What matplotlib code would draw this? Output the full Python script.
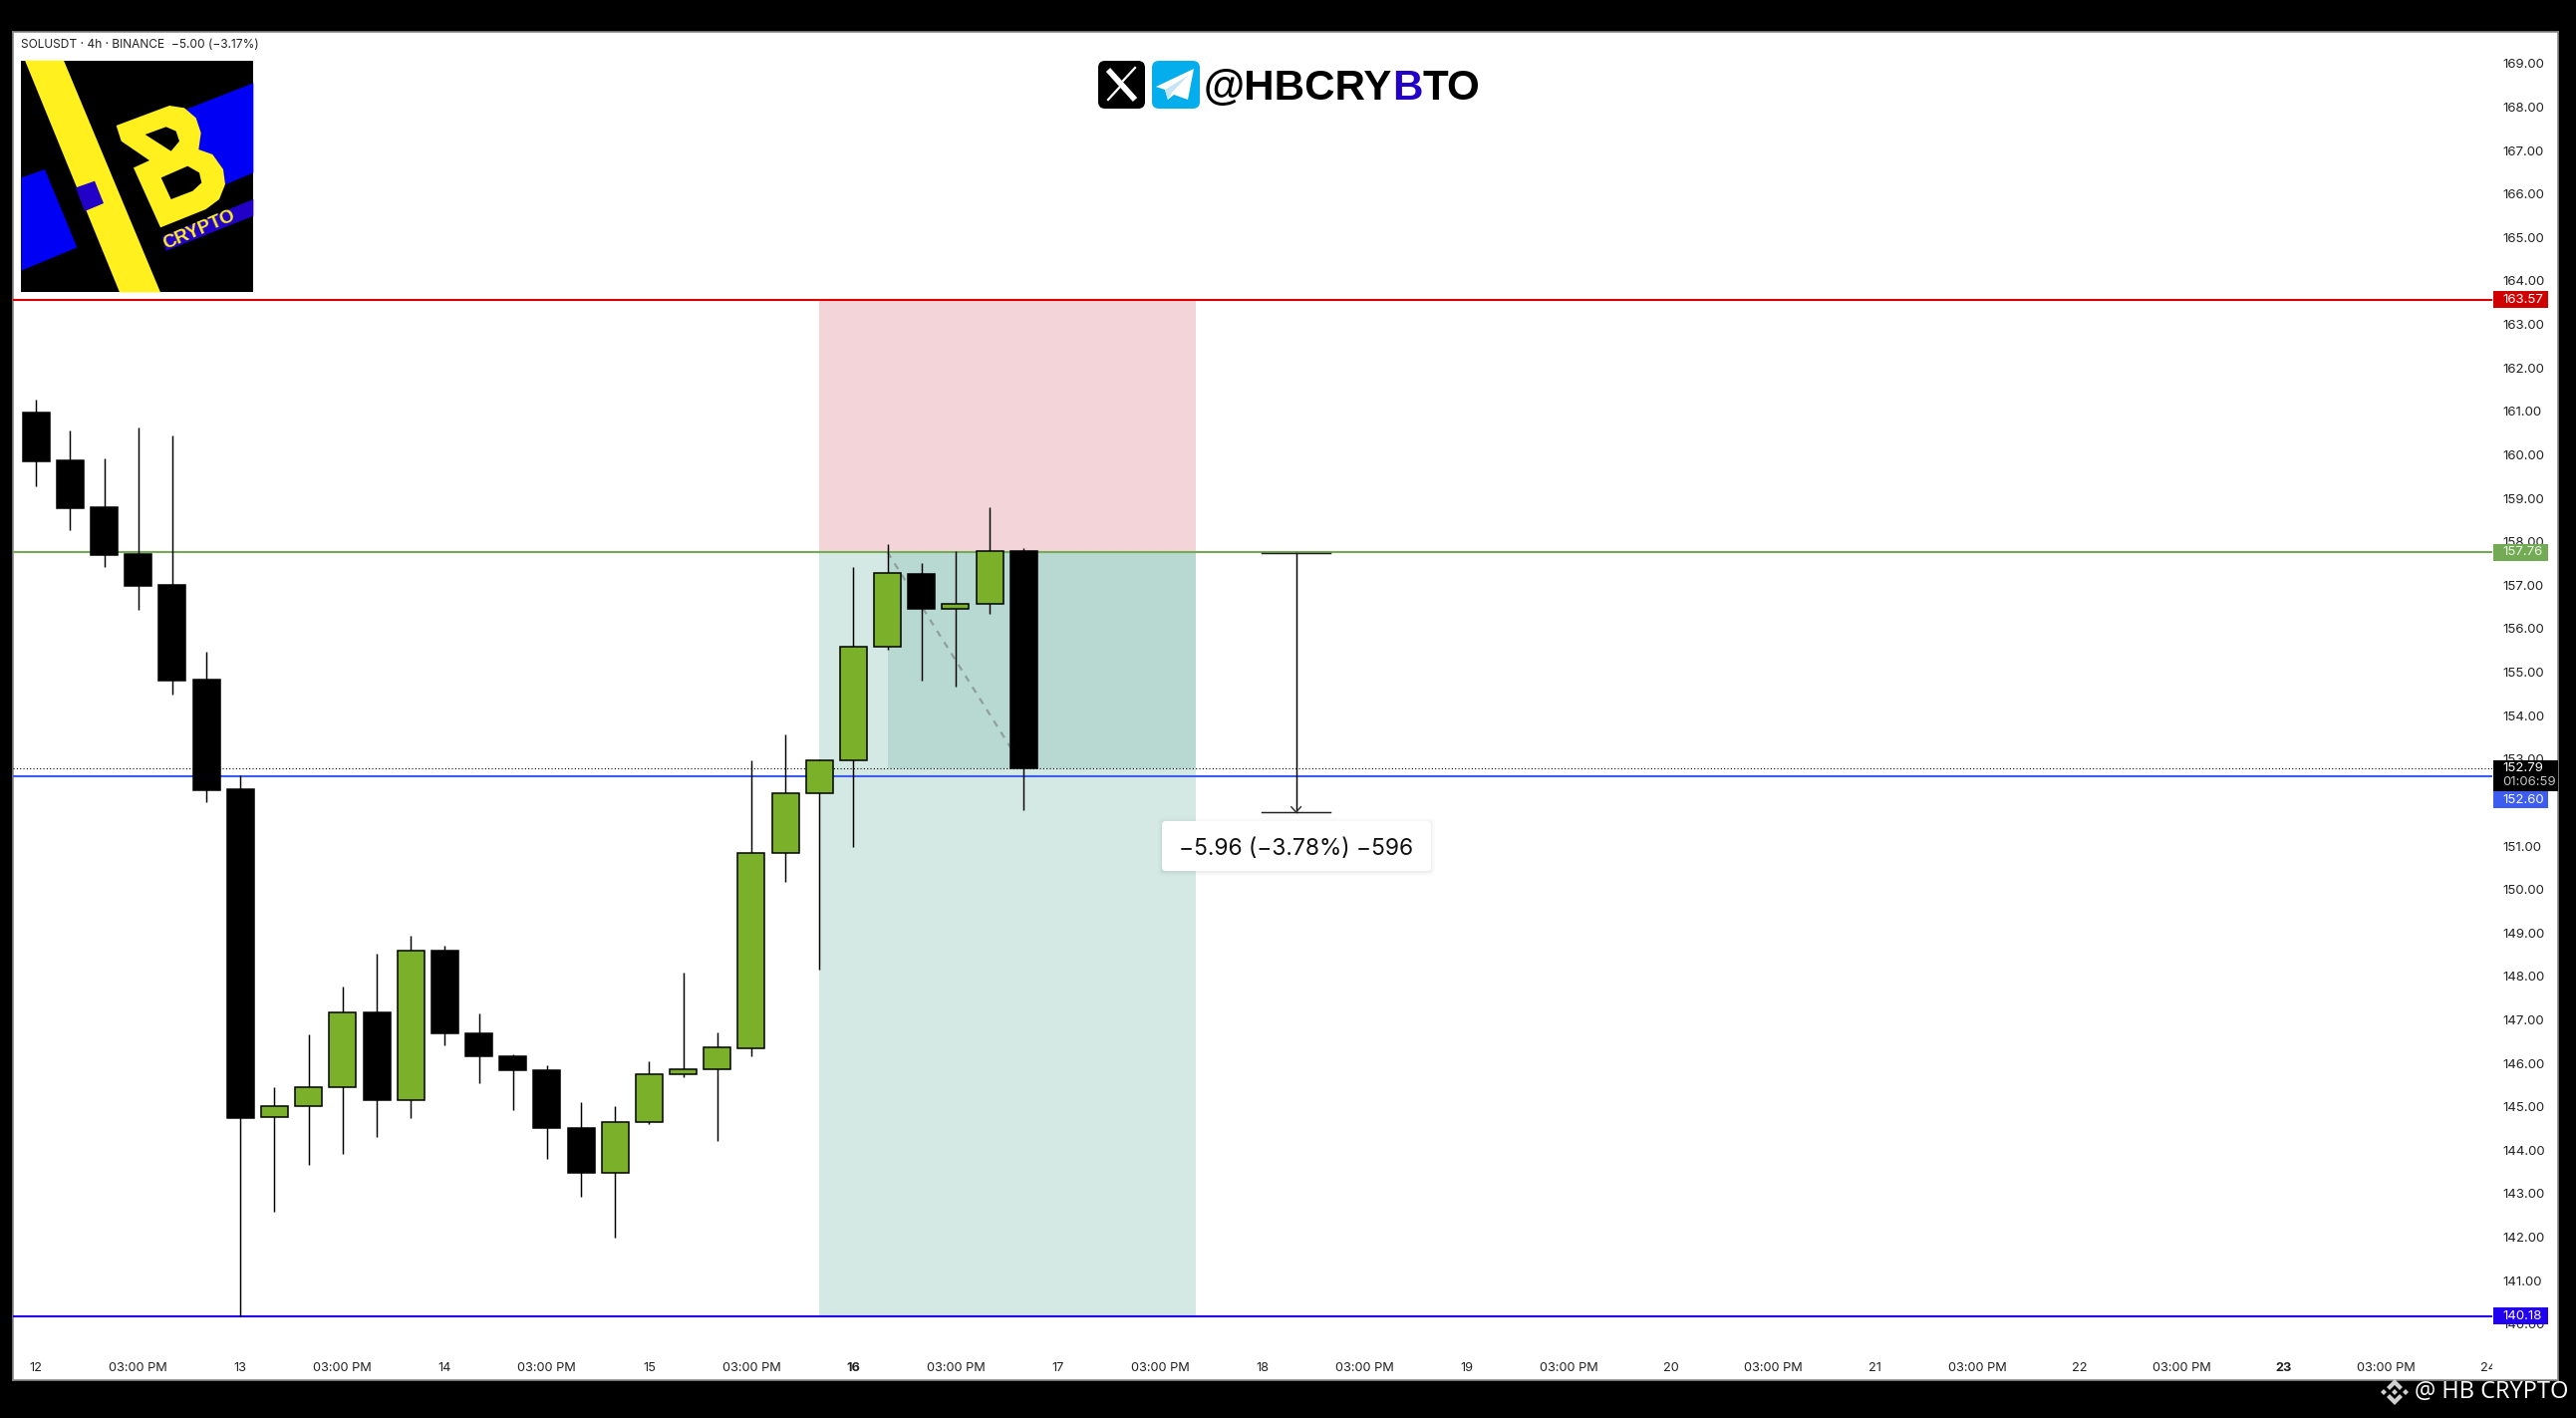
"""
Ricostruzione del grafico SOLUSDT 4h con posizione short e righello.
"""

import matplotlib
matplotlib.use("Agg")
import matplotlib.pyplot as plt
from matplotlib.patches import Rectangle, Polygon, FancyBboxPatch
from matplotlib.transforms import Bbox

# =======================
# Dati
# =======================

opens = [160.97, 159.87, 158.80, 157.72, 157.01, 154.83, 152.31, 144.76, 145.01, 145.45,
         147.17, 145.16, 148.59, 146.70, 146.17, 145.85, 144.52, 143.49, 144.64, 145.74,
         145.86, 146.34, 150.83, 152.21, 152.97, 155.58, 157.25, 156.46, 156.56, 157.78]
closes = [159.86, 158.77, 157.70, 156.99, 154.81, 152.29, 144.75, 145.01, 145.45, 147.17,
          145.16, 148.59, 146.70, 146.17, 145.85, 144.52, 143.49, 144.64, 145.74, 145.86,
          146.36, 150.85, 152.21, 152.97, 155.58, 157.28, 156.46, 156.56, 157.78, 152.79]
highs = [161.28, 160.56, 159.92, 160.63, 160.45, 155.47, 152.62, 145.46, 146.67, 147.77,
         148.53, 148.94, 148.71, 147.15, 146.22, 145.96, 145.11, 145.02, 146.05, 148.09,
         146.71, 152.98, 153.56, 152.99, 157.41, 157.95, 157.50, 157.79, 158.80, 157.86]
lows = [159.28, 158.27, 157.42, 156.44, 154.49, 152.01, 140.18, 142.59, 143.67, 143.92,
        144.31, 144.75, 146.42, 145.55, 144.93, 143.81, 142.94, 141.98, 144.61, 145.69,
        144.22, 146.16, 150.18, 148.15, 150.98, 155.52, 154.81, 154.67, 156.35, 151.83]

date_ticks = [0, 3, 6, 9, 12, 15, 18, 21, 24, 27, 30, 33, 36, 39, 42, 45, 48, 51, 54, 57, 60, 63, 66, 69, 72]
date_labels = ["12", "03:00 PM", "13", "03:00 PM", "14", "03:00 PM", "15", "03:00 PM", "16",
               "03:00 PM", "17", "03:00 PM", "18", "03:00 PM", "19", "03:00 PM", "20",
               "03:00 PM", "21", "03:00 PM", "22", "03:00 PM", "23", "03:00 PM", "24"]
bold_dates = ["16", "23"]
price_ticks = list(range(140, 170))

stop_price = 163.57
entry_price = 157.76
last_price = 152.79
blue_price = 152.60
target_price = 140.18

position_start = 23
position_end = 34.05
filled_start = 25
exit_bar = 29
ruler_bar = 37
ruler_top = 157.74
ruler_bottom = 151.78

GREEN = "#7bb02b"
LINE_GREEN = "#72ab53"
RED = "#e00000"
BLUE = "#3d5cf0"
DEEP_BLUE = "#2200f0"
LOGO_BLUE = "#2200c8"
YELLOW = "#fff01e"
FONT = "Inter"

W, H = 2585, 1423

# =======================
# Figura e assi
# =======================

fig = plt.figure(figsize=(W / 100, H / 100), dpi=100, facecolor="black")

def axes_px(left, top, right, bottom, **kw):
    return fig.add_axes([left / W, 1 - bottom / H, (right - left) / W, (bottom - top) / H], **kw)

pane = axes_px(13, 32, 2567, 1385, facecolor="white", zorder=0)
pane.set_xticks([])
pane.set_yticks([])
for s in pane.spines.values():
    s.set_color("#8a8a8a")
    s.set_linewidth(1.2)

ax = axes_px(13, 32, 2501, 1355, zorder=1)
ax.patch.set_alpha(0)
for s in ax.spines.values():
    s.set_visible(False)
ax.set_xlim(-0.682, 72.13)
ax.set_ylim(139.40, 169.73)

ax.yaxis.tick_right()
ax.set_yticks(price_ticks)
ax.set_yticklabels([f"{p:.2f}" for p in price_ticks], fontsize=9.5, family=FONT, color="#222222")
ax.tick_params(axis="y", length=0, pad=7.2)
ax.set_xticks(date_ticks)
ax.set_xticklabels(date_labels, fontsize=9.2, family=FONT, color="#222222")
ax.tick_params(axis="x", length=0, pad=8.6)
for lab in ax.get_xticklabels():
    if lab.get_text() in bold_dates:
        lab.set_fontweight("bold")
    lab.set_clip_on(True)
    lab.set_clip_box(Bbox([[13, 0], [2501, H]]))

# Zone della posizione
ax.add_patch(Rectangle((position_start, entry_price), position_end - position_start,
                       stop_price - entry_price, color="#f3d5d9", lw=0, zorder=1))
ax.add_patch(Rectangle((position_start, target_price), position_end - position_start,
                       entry_price - target_price, color="#d5e9e4", lw=0, zorder=1))
ax.add_patch(Rectangle((filled_start, last_price), position_end - filled_start,
                       entry_price - last_price, color="#b7d9d2", lw=0, zorder=1.5))
ax.plot([filled_start, exit_bar], [entry_price, last_price], color="#8f9f9b", lw=1.6,
        ls=(0, (3, 3)), zorder=2)

# Linee di prezzo
ax.axhline(stop_price, color=RED, lw=1.5, zorder=2)
ax.axhline(entry_price, color=LINE_GREEN, lw=1.5, zorder=2)
ax.axhline(last_price, color="black", lw=0.8, ls=(0, (1, 2)), zorder=2)
ax.axhline(blue_price, color=BLUE, lw=1.5, zorder=2)
ax.axhline(target_price, color=DEEP_BLUE, lw=1.5, zorder=2)

# Candele
body_w = 0.79
for i in range(len(opens)):
    up = closes[i] >= opens[i]
    ax.plot([i, i], [lows[i], highs[i]], color="black", lw=1.05, zorder=3, solid_capstyle="butt")
    bottom = min(opens[i], closes[i])
    ax.add_patch(Rectangle((i - body_w / 2, bottom), body_w, abs(closes[i] - opens[i]),
                           facecolor=GREEN if up else "black", edgecolor="black",
                           lw=1.1, zorder=4))

# Righello
ax.plot([ruler_bar, ruler_bar], [ruler_top, ruler_bottom], color="black", lw=1.05, zorder=5)
ax.plot([ruler_bar - 1, ruler_bar + 1], [ruler_top, ruler_top], color="#222222", lw=1.05, zorder=5)
ax.plot([ruler_bar - 1, ruler_bar + 1], [ruler_bottom, ruler_bottom], color="#222222", lw=1.05, zorder=5)
ax.plot([ruler_bar - 0.14, ruler_bar, ruler_bar + 0.14],
        [ruler_bottom + 0.12, ruler_bottom, ruler_bottom + 0.12], color="#333333", lw=1.05, zorder=5)

# =======================
# Sovrapposizione in pixel
# =======================

top = fig.add_axes([0, 0, 1, 1], zorder=2)
top.patch.set_alpha(0)
top.axis("off")
top.set_xlim(0, W)
top.set_ylim(H, 0)

def y_of(price):
    return H - ax.transData.transform((0, price))[1]

def tag(price, text, color, text_color="white", shift=0, right=2557, h=17):
    y = y_of(price) + shift
    top.add_patch(Rectangle((2502, y - h / 2), right - 2502, h, color=color, lw=0, zorder=3))
    top.text(2511, y, text, color=text_color, fontsize=9.5, family=FONT, va="center", ha="left", zorder=4)

tag(stop_price, "163.57", "#d10000")
tag(entry_price, "157.76", LINE_GREEN, "#eef5e8")
tag(target_price, "140.18", DEEP_BLUE)
# il tag blu scende sotto quello nero per non sovrapporsi
tag(blue_price, "152.60", BLUE, shift=23.5)
y_last = y_of(last_price)
top.add_patch(Rectangle((2502, y_last - 8), 65, 31, color="black", lw=0, zorder=3))
top.text(2511, y_last + 0.5, "152.79", color="white", fontsize=9.5, family=FONT, va="center", zorder=4)
top.text(2511, y_last + 14.5, "01:06:59", color="#c4c4c4", fontsize=9.5, family=FONT, va="center", zorder=4)

# Etichetta righello
for grow, alpha in [(4, 0.012), (2.5, 0.02), (1, 0.03)]:
    top.add_patch(FancyBboxPatch((1166 - grow, 824 - grow + 1), 270 + 2 * grow, 50 + 2 * grow,
                                 boxstyle="round,pad=0,rounding_size=4", fc="black", ec="none",
                                 alpha=alpha, zorder=5))
top.add_patch(FancyBboxPatch((1166, 824), 270, 50, boxstyle="round,pad=0,rounding_size=4",
                             fc="white", ec="none", zorder=6))
top.text(1301, 852, "\u22125.96 (\u22123.78%) \u2212596", fontsize=16.4, family=FONT, color="#111111",
         ha="center", va="center", zorder=7)

# Titolo simbolo
top.text(21, 45, "SOLUSDT \u00b7 4h \u00b7 BINANCE  \u22125.00 (\u22123.17%)", fontsize=8.6, family=FONT,
         color="#222222", va="center", ha="left")

# Logo
def logo_poly(points, color, z=3):
    top.add_patch(Polygon([(x / 3, y / 3) for x, y in points], closed=True, fc=color, ec="none", zorder=z))

logo_poly([(64, 182), (763, 182), (763, 880), (64, 880)], "black", 1)
logo_poly([(520, 345), (763, 250), (763, 520), (640, 572), (560, 400)], "#0000f5", 2)
logo_poly([(64, 535), (135, 510), (232, 745), (64, 815)], "#0000f5", 2)
logo_poly([(75, 182), (192, 182), (483, 880), (360, 880)], YELLOW, 2)
logo_poly([(228, 565), (285, 545), (312, 612), (255, 636)], LOGO_BLUE, 3)
logo_poly([(350, 378), (510, 318), (555, 325), (590, 355), (605, 400), (598, 450), (640, 465),
           (672, 510), (678, 555), (660, 600), (620, 630), (483, 685), (402, 505), (450, 483),
           (365, 425)], YELLOW, 3)
logo_poly([(437, 405), (500, 382), (530, 395), (540, 425), (515, 455)], "black", 4)
logo_poly([(485, 535), (565, 500), (600, 520), (607, 550), (580, 575), (515, 600)], "black", 4)
logo_poly([(488, 712), (763, 600), (763, 650), (500, 755)], LOGO_BLUE, 3)
top.text(200, 231, "CRYPTO", family="Liberation Sans", fontweight="bold", fontsize=13.5, color=YELLOW,
         rotation=23, ha="center", va="center", zorder=5)

# Icone social
def icon_box(x0, x1, color):
    top.add_patch(FancyBboxPatch((x0, 61), x1 - x0, 48, boxstyle="round,pad=0,rounding_size=7",
                                 fc=color, ec="none", zorder=3))

icon_box(1102, 1149, "black")
icon_box(1156, 1204, "#04aeec")
top.plot([1112, 1139], [70, 100], color="white", lw=4.2, solid_capstyle="butt", zorder=4)
top.plot([1112, 1123], [100, 88], color="white", lw=1.6, zorder=4)
top.plot([1127, 1139], [81, 68], color="white", lw=1.6, zorder=4)
top.add_patch(Polygon([(1160, 87), (1198, 69), (1192, 100), (1178, 95), (1172, 100), (1169, 90)],
                      closed=True, fc="white", ec="none", zorder=4))
top.add_patch(Polygon([(1169, 90), (1192, 76), (1176, 93), (1172, 100)],
                      closed=True, fc="#c5e4f5", ec="none", zorder=5))

# Handle con la B colorata
renderer = fig.canvas.get_renderer()
x_cursor = 1208
for part, col in [("@HBCRY", "black"), ("B", LOGO_BLUE), ("TO", "black")]:
    t = top.text(x_cursor, 100.5, part, family="Liberation Sans", fontweight="bold", fontsize=30.3,
                 color=col, va="baseline", ha="left", zorder=4)
    x_cursor = t.get_window_extent(renderer).x1

# Filigrana
top.text(2423, 1397, "@ HB CRYPTO", family="Open Sans", fontsize=17, color="white", va="center",
         ha="left", zorder=6)
cx, cy = 2403, 1397
for sign in (-1, 1):
    top.add_patch(Polygon([(cx, cy + sign * 13), (cx + 8, cy + sign * 5), (cx + 5, cy + sign * 2),
                           (cx, cy + sign * 7), (cx - 5, cy + sign * 2), (cx - 8, cy + sign * 5)],
                          closed=True, fc="#d0d0d0", ec="none", zorder=6))
for dx in (-11, 0, 11):
    top.add_patch(Polygon([(cx + dx, cy - 3), (cx + dx + 3, cy), (cx + dx, cy + 3), (cx + dx - 3, cy)],
                          closed=True, fc="#d0d0d0", ec="none", zorder=6))

fig.savefig("out.png", dpi=100, facecolor="black")
